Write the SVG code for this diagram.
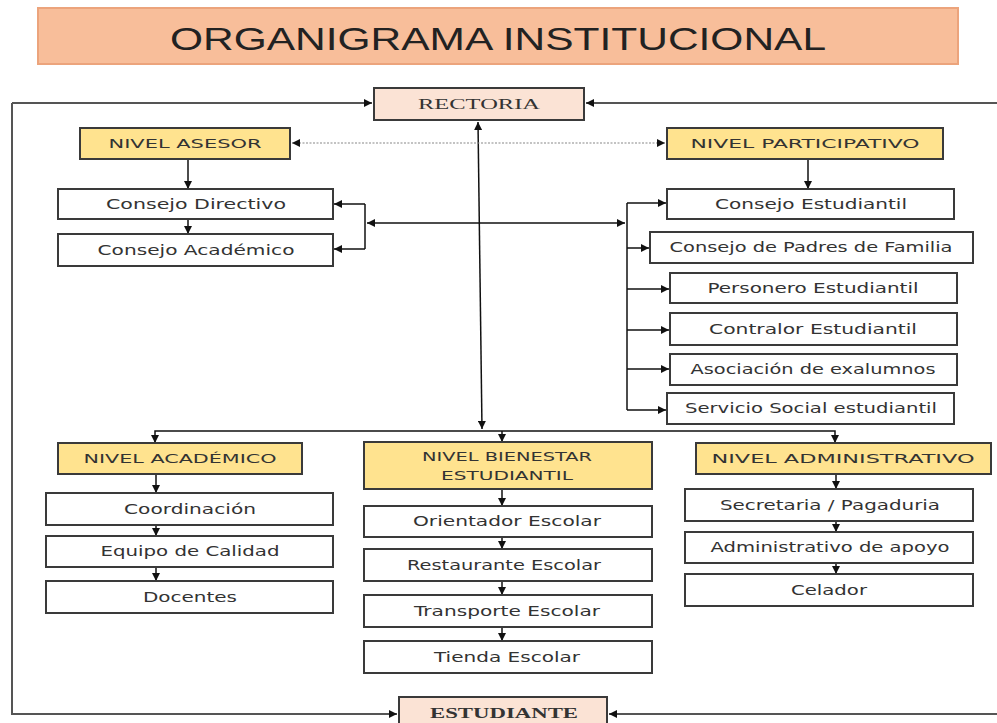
<svg xmlns="http://www.w3.org/2000/svg" width="997" height="723" viewBox="0 0 997 723">
<defs>
<marker id="ah" viewBox="0 0 8 8" refX="8" refY="4" markerWidth="8" markerHeight="8" markerUnits="userSpaceOnUse" orient="auto-start-reverse">
<path d="M0,0 L8,4 L0,8 z" fill="#111"/>
</marker>
<style>
.box{fill:#fff;stroke:#3a3a3a;stroke-width:2}
.lvl{fill:#FFE38F;stroke:#3a3a3a;stroke-width:2}
.pk{fill:#FBE3D5;stroke:#3a3a3a;stroke-width:2}
.t{font-family:"DejaVu Sans","Liberation Sans",sans-serif;font-size:14px;fill:#333;text-anchor:middle}
.tl{font-family:"DejaVu Sans","Liberation Sans",sans-serif;font-size:13px;fill:#333;text-anchor:middle}
.ts{font-family:"Liberation Serif","DejaVu Serif",serif;font-size:15px;fill:#333;text-anchor:middle}
.c{fill:none;stroke:#111;stroke-width:1.5}
.o{fill:none;stroke:#555;stroke-width:2}
.d{fill:none;stroke:#888;stroke-width:1.2;stroke-dasharray:2 1.5}
</style>
</defs>
<g id="title">
<rect x="38" y="8" width="920" height="56" fill="#F8BE9A" stroke="#ECA47C" stroke-width="2"/>
<text x="498" y="50" font-family="Liberation Sans, Arial, sans-serif" font-size="32" fill="#222" text-anchor="middle" textLength="656" lengthAdjust="spacingAndGlyphs">ORGANIGRAMA INSTITUCIONAL</text>
</g>
<g id="connectors">
<path class="o" d="M12,103 L372,103" marker-end="url(#ah)"/>
<path class="o" d="M12,103 L12,714 L397,714" marker-end="url(#ah)"/>
<path class="o" d="M997,103 L586,103" marker-end="url(#ah)"/>
<path class="o" d="M997,714 L609,714" marker-end="url(#ah)"/>
<path class="c" d="M478,122 L482,429" marker-start="url(#ah)" marker-end="url(#ah)"/>
<path class="d" d="M292,143 L665,143" marker-start="url(#ah)" marker-end="url(#ah)"/>
<path class="c" d="M188,160 L188,189" marker-end="url(#ah)"/>
<path class="c" d="M188,219 L188,234" marker-end="url(#ah)"/>
<path class="c" d="M365,204 L365,249"/>
<path class="c" d="M365,204 L334,204" marker-end="url(#ah)"/>
<path class="c" d="M365,249 L334,249" marker-end="url(#ah)"/>
<path class="c" d="M367,223 L625,223" marker-start="url(#ah)" marker-end="url(#ah)"/>
<path class="c" d="M808,160 L808,189" marker-end="url(#ah)"/>
<path class="c" d="M627,203 L627,410"/>
<path class="c" d="M627,203 L666,203" marker-end="url(#ah)"/>
<path class="c" d="M627,248 L649,248" marker-end="url(#ah)"/>
<path class="c" d="M627,289 L669,289" marker-end="url(#ah)"/>
<path class="c" d="M627,330 L669,330" marker-end="url(#ah)"/>
<path class="c" d="M627,369 L669,369" marker-end="url(#ah)"/>
<path class="c" d="M627,410 L666,410" marker-end="url(#ah)"/>
<path class="c" d="M155,443 L155,431 L835,431 L835,443" marker-start="url(#ah)" marker-end="url(#ah)"/>
<path class="c" d="M502,431 L502,442" marker-end="url(#ah)"/>
<path class="c" d="M156,474 L156,493" marker-end="url(#ah)"/>
<path class="c" d="M156,525 L156,536" marker-end="url(#ah)"/>
<path class="c" d="M156,567 L156,581" marker-end="url(#ah)"/>
<path class="c" d="M502,489 L502,506" marker-end="url(#ah)"/>
<path class="c" d="M502,537 L502,549" marker-end="url(#ah)"/>
<path class="c" d="M502,581 L502,595" marker-end="url(#ah)"/>
<path class="c" d="M502,627 L502,641" marker-end="url(#ah)"/>
<path class="c" d="M836,474 L836,489" marker-end="url(#ah)"/>
<path class="c" d="M836,521 L836,532" marker-end="url(#ah)"/>
<path class="c" d="M836,563 L836,574" marker-end="url(#ah)"/>
</g>
<g id="rectoria"><rect class="pk" x="374" y="88" width="210" height="32"/><text class="ts" x="479" y="109" textLength="122" lengthAdjust="spacingAndGlyphs">RECTORIA</text></g>
<g id="estudiante"><rect class="pk" x="399" y="697" width="208" height="40"/><text class="ts" x="504" y="718" font-weight="bold" font-size="17" textLength="148" lengthAdjust="spacingAndGlyphs">ESTUDIANTE</text></g>
<g id="nivel-asesor"><rect class="lvl" x="80" y="128" width="210" height="31"/><text class="tl" x="185" y="148" textLength="153" lengthAdjust="spacingAndGlyphs">NIVEL ASESOR</text></g>
<g id="nivel-participativo"><rect class="lvl" x="667" y="128" width="276" height="31"/><text class="tl" x="805" y="148" textLength="229" lengthAdjust="spacingAndGlyphs">NIVEL PARTICIPATIVO</text></g>
<g id="consejo-directivo"><rect class="box" x="58" y="189" width="275" height="30"/><text class="t" x="196" y="209" textLength="180" lengthAdjust="spacingAndGlyphs">Consejo Directivo</text></g>
<g id="consejo-academico"><rect class="box" x="58" y="234" width="275" height="32"/><text class="t" x="196" y="255" textLength="197" lengthAdjust="spacingAndGlyphs">Consejo Académico</text></g>
<g id="consejo-estudiantil"><rect class="box" x="667" y="189" width="287" height="30"/><text class="t" x="811" y="209" textLength="192" lengthAdjust="spacingAndGlyphs">Consejo Estudiantil</text></g>
<g id="consejo-padres"><rect class="box" x="650" y="232" width="323" height="31"/><text class="t" x="811" y="252" textLength="283" lengthAdjust="spacingAndGlyphs">Consejo de Padres de Familia</text></g>
<g id="personero"><rect class="box" x="670" y="273" width="287" height="30"/><text class="t" x="813" y="293" textLength="211" lengthAdjust="spacingAndGlyphs">Personero Estudiantil</text></g>
<g id="contralor"><rect class="box" x="670" y="313" width="287" height="32"/><text class="t" x="813" y="334" textLength="208" lengthAdjust="spacingAndGlyphs">Contralor Estudiantil</text></g>
<g id="asociacion"><rect class="box" x="670" y="354" width="287" height="31"/><text class="t" x="813" y="374" textLength="245" lengthAdjust="spacingAndGlyphs">Asociación de exalumnos</text></g>
<g id="servicio-social"><rect class="box" x="667" y="393" width="287" height="31"/><text class="t" x="811" y="413" textLength="252" lengthAdjust="spacingAndGlyphs">Servicio Social estudiantil</text></g>
<g id="nivel-academico"><rect class="lvl" x="58" y="443" width="244" height="31"/><text class="tl" x="180" y="463" textLength="193" lengthAdjust="spacingAndGlyphs">NIVEL ACADÉMICO</text></g>
<g id="coordinacion"><rect class="box" x="46" y="493" width="287" height="32"/><text class="t" x="190" y="514" textLength="132" lengthAdjust="spacingAndGlyphs">Coordinación</text></g>
<g id="equipo-calidad"><rect class="box" x="46" y="536" width="287" height="31"/><text class="t" x="190" y="556" textLength="179" lengthAdjust="spacingAndGlyphs">Equipo de Calidad</text></g>
<g id="docentes"><rect class="box" x="46" y="581" width="287" height="32"/><text class="t" x="190" y="602" textLength="94" lengthAdjust="spacingAndGlyphs">Docentes</text></g>
<g id="nivel-bienestar"><rect class="lvl" x="364" y="442" width="288" height="47"/><text class="tl" x="507" y="461" font-size="12" textLength="170" lengthAdjust="spacingAndGlyphs">NIVEL BIENESTAR</text><text class="tl" x="507" y="480" font-size="12" textLength="132" lengthAdjust="spacingAndGlyphs">ESTUDIANTIL</text></g>
<g id="orientador"><rect class="box" x="364" y="506" width="288" height="31"/><text class="t" x="507" y="526" textLength="188" lengthAdjust="spacingAndGlyphs">Orientador Escolar</text></g>
<g id="restaurante"><rect class="box" x="364" y="549" width="288" height="32"/><text class="t" x="504" y="570" textLength="194" lengthAdjust="spacingAndGlyphs">Restaurante Escolar</text></g>
<g id="transporte"><rect class="box" x="364" y="595" width="288" height="32"/><text class="t" x="507" y="616" textLength="186" lengthAdjust="spacingAndGlyphs">Transporte Escolar</text></g>
<g id="tienda"><rect class="box" x="364" y="641" width="288" height="32"/><text class="t" x="507" y="662" textLength="146" lengthAdjust="spacingAndGlyphs">Tienda Escolar</text></g>
<g id="nivel-administrativo"><rect class="lvl" x="696" y="443" width="295" height="31"/><text class="tl" x="843" y="463" textLength="263" lengthAdjust="spacingAndGlyphs">NIVEL ADMINISTRATIVO</text></g>
<g id="secretaria"><rect class="box" x="685" y="489" width="288" height="32"/><text class="t" x="830" y="510" textLength="220" lengthAdjust="spacingAndGlyphs">Secretaria / Pagaduria</text></g>
<g id="administrativo-apoyo"><rect class="box" x="685" y="532" width="288" height="31"/><text class="t" x="830" y="552" textLength="239" lengthAdjust="spacingAndGlyphs">Administrativo de apoyo</text></g>
<g id="celador"><rect class="box" x="685" y="574" width="288" height="32"/><text class="t" x="829" y="595" textLength="76" lengthAdjust="spacingAndGlyphs">Celador</text></g>
</svg>
